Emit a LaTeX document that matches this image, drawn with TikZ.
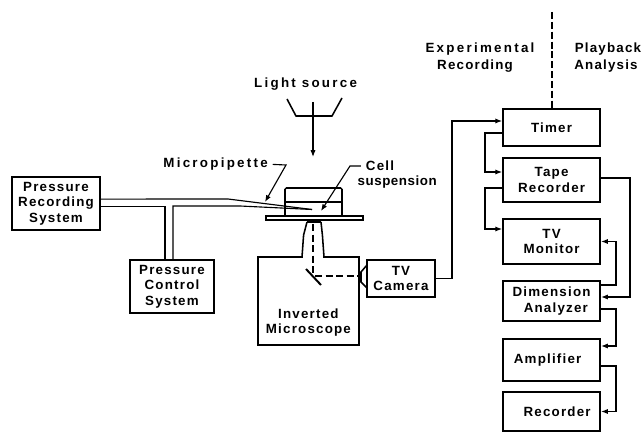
\documentclass[tikz,border=0pt]{standalone}
\usepackage{fontspec}
\setmainfont[LetterSpace=9]{Liberation Sans}
\usepackage{xcolor}
\usetikzlibrary{arrows.meta, positioning}

\tikzset{
  sysbox/.style={draw, line width=1.4pt, align=center, inner sep=0pt},
  widelbl/.style={font=\fontsize{9.5}{11}\selectfont\bfseries\addfontfeature{LetterSpace=17}},
  narrowlbl/.style={font=\fontsize{9.5}{11}\selectfont\bfseries\addfontfeature{LetterSpace=4}},
  sigline/.style={line width=0.8pt},
  sigarrow/.style={line width=0.8pt, -{Latex[length=1.7mm,width=1.3mm]}},
  lightpath/.style={line width=1.2pt, dash pattern=on 5pt off 2.5pt},
}

\begin{document}
\begin{tikzpicture}[scale=1.0, every node/.style={font=\fontsize{9.5}{11}\selectfont\bfseries}]
\useasboundingbox (0,0) rectangle (16.1,10.85);
% Pressure systems (left)
\node[sysbox, minimum width=2.20cm, minimum height=1.325cm] (prs) at (1.40,5.76) {Pressure\\Recording\\System};
\node[sysbox, minimum width=2.10cm, minimum height=1.325cm] (pcs) at (4.30,3.69) {Pressure\\Control\\System};
% Microscope and camera
\node[sysbox, minimum width=2.525cm, minimum height=2.20cm] (mic) at (7.71,3.325) {};
\node (micLbl) at (7.71,2.79) [align=center] {Inverted\\Microscope};
\node[sysbox, minimum width=1.70cm, minimum height=0.925cm] (cam) at (10.025,3.888) {TV\\Camera};
% Recording chain (right column)
\node[sysbox, minimum width=2.425cm, minimum height=0.925cm] (timer) at (13.79,7.663) {Timer};
\node[sysbox, minimum width=2.425cm, minimum height=1.10cm] (tape) at (13.79,6.35) {Tape\\Recorder};
\node[sysbox, minimum width=2.425cm, minimum height=1.125cm] (mon) at (13.79,4.8125) {TV\\Monitor};
\node[sysbox, minimum width=2.425cm, minimum height=1.0cm] (dim) at (13.79,3.325) {Dimension\\\hspace*{6pt}Analyzer};
\node[sysbox, minimum width=2.425cm, minimum height=1.05cm] (amp) at (13.79,1.85) {\hspace*{-5.7pt}Amplifier};
\node[sysbox, minimum width=2.425cm, minimum height=0.975cm] (rec) at (13.79,0.5625) {\hspace*{7.8pt}Recorder};
% Free labels
\node[widelbl] (lightLbl) at (7.64,8.75) {Light source};
\node[widelbl] (pipetteLbl) at (5.39,6.74) {Micropipette};
\node (cellLbl) at (9.50,6.70) {Cell};
\node[narrowlbl] (suspLbl) at (9.93,6.30) {suspension};
\node[widelbl] (expLbl) at (12.0,9.625) {Experimental};
\node (recLbl) at (11.875,9.20) {Recording};
\node (playLbl) at (15.2,9.625) {Playback};
\node (anaLbl) at (15.15,9.20) {Analysis};
% Record / playback divider
\coordinate (divideTop) at (13.79,10.55);
\draw[line width=1.4pt, dash pattern=on 5pt off 2pt] (divideTop) -- (timer.north);
% Lamp and illumination arrow
\draw[line width=1.1pt] (7.175,8.375) -- (7.40,7.95) -- (8.30,7.95) -- (8.55,8.40);
\draw[sigarrow] (7.825,8.30) -- (7.825,6.925);
% Stage and chamber
\draw[line width=1.1pt, rounded corners=1pt] (7.125,5.45) -- (7.125,6.15) -- (8.55,6.15) -- (8.55,5.45);
\draw[line width=0.9pt] (7.125,5.80) -- (8.55,5.80);
\draw[line width=1.1pt, fill=white] (6.65,5.45) rectangle (9.075,5.35);
% Double-walled pressure line and pipette
\coordinate (pipeTip) at (7.80,5.6125);
\coordinate (pipeBendA) at (5.70,5.875);
\coordinate (pipeBendB) at (6.00,5.70);
\draw[sigline] ([yshift=0.1125cm]prs.east) -- (pipeBendA) -- (pipeTip);
\draw[sigline] ([yshift=-0.0625cm]prs.east) -| ([xshift=-0.175cm]pcs.north);
\draw[sigline] ([xshift=0.025cm]pcs.north) |- (pipeBendB) -- (pipeTip);
% Leaders
\coordinate (pipetteTip) at (6.625,5.80);
\coordinate (cellTip) at (8.025,5.575);
\draw[sigarrow] (pipetteLbl.east) -- (7.15,6.725) -- (pipetteTip);
\draw[sigarrow] (cellLbl.west) -- (8.75,6.70) -- (cellTip);
% Objective
\fill[white] (7.58,4.38) rectangle (8.07,4.47);
\draw[line width=1.1pt] (7.55,4.425) -- (7.59,4.975) -- (7.675,5.30);
\draw[line width=1.1pt] (8.10,4.425) -- (8.06,4.975) -- (8.025,5.30);
\draw[line width=2pt] (7.675,5.30) -- (8.025,5.30);
% Light path and mirror
\draw[lightpath] (7.825,5.25) -- (7.825,3.975);
\draw[lightpath] (7.875,3.95) -- (9.0,3.95);
\draw[line width=1.4pt] (7.65,4.125) -- (8.025,3.725);
% Camera adapter
\draw[line width=1.1pt] (9.175,4.225) -- (9.025,4.05) -- (9.025,3.80) -- (9.175,3.65);
% Signal routing
\coordinate (railA) at (11.30,5.0);
\coordinate (railB) at (12.125,6.0);
\coordinate (railC) at (15.75,5.0);
\coordinate (railD) at (15.40,3.0);
\draw[sigarrow] (cam.east) -- (cam.east -| railA) -- (timer.west -| railA) |- ([yshift=0.1625cm]timer.west);
\draw[sigarrow] ([yshift=-0.1375cm]timer.west) -- ([yshift=-0.1375cm]timer.west -| railB) |- ([yshift=0.20cm]tape.west);
\draw[sigarrow] ([yshift=-0.20cm]tape.west) -- ([yshift=-0.20cm]tape.west -| railB) |- ([yshift=0.3125cm]mon.west);
\draw[sigarrow] ([yshift=0.05cm]tape.east) -- ([yshift=0.05cm]tape.east -| railC) |- ([yshift=0.10cm]dim.east);
\draw[sigarrow] ([yshift=0.40cm]dim.east) -- ([yshift=0.40cm]dim.east -| railD) |- (mon.east);
\draw[sigarrow] ([yshift=-0.20cm]dim.east) -- ([yshift=-0.20cm]dim.east -| railD) |- ([yshift=0.35cm]amp.east);
\draw[sigarrow] ([yshift=-0.15cm]amp.east) -- ([yshift=-0.15cm]amp.east -| railD) |- (rec.east);
\end{tikzpicture}
\end{document}
